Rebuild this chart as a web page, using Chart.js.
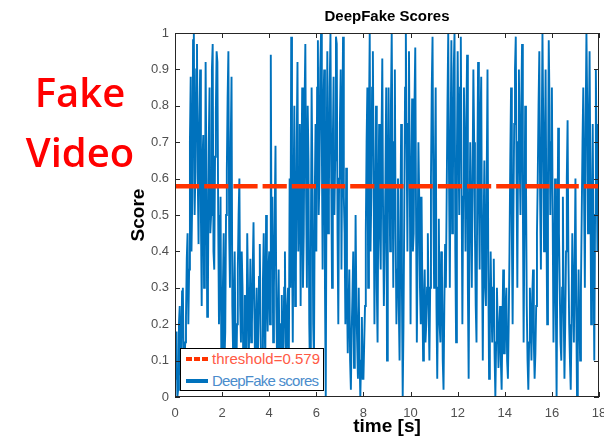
<!DOCTYPE html>
<html>
<head>
<meta charset="utf-8">
<script src="https://cdn.jsdelivr.net/npm/chart.js@4.4.1/dist/chart.umd.min.js"></script>
<style>
  html, body { margin: 0; padding: 0; background: #fff; }
  #wrap { position: relative; width: 604px; height: 438px; overflow: hidden; }
  #fake { position: absolute; left: 0; top: 0; width: 160px; text-align: center;
          font-family: "Open Sans", sans-serif; font-weight: 600; font-size: 40px;
          color: #ff0000; line-height: 60px; padding-top: 62px; }
  #legend { position: absolute; left: 180px; top: 348px; width: 142px; height: 41px;
            border: 1.5px solid #000; background: #fff;
            font-family: "Liberation Sans", Arial, sans-serif; font-size: 15px; }
  .row { position: absolute; left: 0; height: 20px; line-height: 20px; white-space: nowrap; }
  .row span { position: absolute; left: 31px; }
  .sample { position: absolute; left: 5px; top: 8px; width: 22px; height: 4px; }
</style>
</head>
<body>
<div id="wrap">
  <canvas id="grafico" width="604" height="438"></canvas>
  <div id="fake">Fake<br>Video</div>
  <div id="legend">
    <div class="row" style="top:0px">
      <div class="sample" style="background: repeating-linear-gradient(to right, #ff3300 0 6px, transparent 6px 8px);"></div>
      <span style="color:#ff5a45">threshold=0.579</span>
    </div>
    <div class="row" style="top:22px">
      <div class="sample" style="background:#0072bd"></div>
      <span style="color:#4a8ccc; letter-spacing:-0.75px">DeepFake scores</span>
    </div>
  </div>
</div>
<script>
// scores per frame (30 per second)
const fps = 30;
const scores = [
  0.05, 0.12, 0.18, 0.0, 0.02, 0.2, 0.25, 0.06, 0.12, 0.29, 0.3, 0.1, 0.08, 0.15, 0.22, 0.38, 0.45, 0.2, 0.35, 0.7, 0.88, 0.4, 0.55, 0.98, 1.0, 0.5, 0.62, 0.9, 0.97, 0.6,
  0.42, 0.75, 0.9, 0.5, 0.25, 0.65, 0.72, 0.3, 0.4, 0.92, 0.6, 0.22, 0.3, 0.7, 0.85, 0.45, 0.5, 0.9, 0.97, 0.4, 0.35, 0.66, 0.78, 0.95, 0.92, 0.5, 0.2, 0.35, 0.55, 0.1,
  0.05, 0.3, 0.45, 0.1, 0.18, 0.5, 0.62, 0.82, 0.95, 0.45, 0.3, 0.7, 0.88, 0.25, 0.12, 0.28, 0.4, 0.15, 0.05, 0.2, 0.35, 0.5, 0.6, 0.25, 0.15, 0.4, 0.3, 0.08, 0.1, 0.28,
  0.25, 0.1, 0.45, 0.3, 0.12, 0.22, 0.38, 0.15, 0.2, 0.35, 0.48, 0.25, 0.08, 0.18, 0.3, 0.05, 0.15, 0.33, 0.42, 0.2, 0.05, 0.12, 0.32, 0.45, 0.22, 0.1, 0.5, 0.3, 0.18, 0.35,
  0.4, 0.2, 0.94, 0.35, 0.55, 0.15, 0.3, 0.5, 0.69, 0.25, 0.1, 0.22, 0.35, 0.12, 0.05, 0.2, 0.28, 0.05, 0.12, 0.3, 0.4, 0.15, 0.08, 0.25, 0.3, 0.1, 0.6, 0.3, 0.99, 0.45,
  0.15, 0.55, 0.8, 0.25, 0.35, 0.7, 0.92, 0.4, 0.5, 0.75, 0.25, 0.6, 0.85, 0.3, 0.45, 0.8, 0.97, 0.55, 0.3, 0.8, 0.65, 0.2, 0.05, 0.4, 0.85, 0.6, 0.2, 0.1, 0.55, 0.75,
  0.4, 0.85, 0.98, 0.5, 0.6, 0.9, 1.0, 0.7, 0.35, 0.8, 0.9, 0.3, 0.0, 0.6, 0.95, 0.45, 0.55, 0.85, 1.0, 0.6, 0.3, 0.7, 0.88, 0.5, 0.65, 0.99, 0.97, 0.45, 0.2, 0.6,
  0.75, 0.9, 0.35, 0.7, 0.99, 0.55, 0.45, 0.2, 0.63, 0.3, 0.12, 0.25, 0.35, 0.1, 0.02, 0.18, 0.28, 0.4, 0.08, 0.15, 0.5, 0.25, 0.15, 0.05, 0.3, 0.12, 0.0, 0.1, 0.22, 0.05,
  0.05, 0.15, 0.25, 0.45, 0.7, 0.85, 0.3, 0.75, 1.0, 0.4, 0.55, 0.85, 0.95, 0.6, 0.2, 0.5, 0.8, 0.3, 0.15, 0.55, 0.75, 0.45, 0.35, 0.7, 0.93, 0.5, 0.25, 0.4, 0.6, 0.85,
  0.1, 0.5, 0.85, 0.6, 0.4, 0.8, 1.0, 0.65, 0.3, 0.7, 0.9, 0.45, 0.2, 0.35, 0.6, 0.25, 0.1, 0.45, 0.75, 0.3, 0.0, 0.2, 0.5, 0.85, 1.0, 0.7, 0.4, 0.75, 0.95, 0.6,
  0.2, 0.6, 0.82, 0.4, 0.45, 0.8, 0.96, 0.5, 0.15, 0.4, 0.7, 0.55, 0.3, 0.2, 0.55, 0.3, 0.1, 0.25, 0.35, 0.15, 0.2, 0.3, 0.45, 0.25, 0.1, 0.3, 0.6, 0.85, 0.99, 0.55,
  0.3, 0.6, 0.85, 0.25, 0.05, 0.3, 0.49, 0.2, 0.15, 0.4, 0.35, 0.1, 0.02, 0.25, 0.42, 0.3, 0.55, 0.8, 1.0, 0.6, 0.3, 0.7, 0.98, 0.45, 0.6, 0.9, 1.0, 0.4, 0.15, 0.65,
  0.95, 0.7, 0.5, 0.85, 0.99, 0.6, 0.2, 0.55, 0.85, 0.65, 0.4, 0.75, 0.94, 0.3, 0.05, 0.45, 0.7, 0.5, 0.3, 0.6, 0.9, 0.7, 0.45, 0.25, 0.15, 0.6, 0.92, 0.55, 0.35, 0.75,
  0.88, 0.4, 0.1, 0.45, 0.65, 0.3, 0.25, 0.6, 0.9, 0.35, 0.05, 0.2, 0.4, 0.25, 0.15, 0.3, 0.38, 0.12, 0.0, 0.15, 0.3, 0.2, 0.08, 0.18, 0.25, 0.1, 0.02, 0.2, 0.35, 0.12,
  0.12, 0.25, 0.3, 0.1, 0.05, 0.2, 0.4, 0.65, 0.85, 0.45, 0.2, 0.5, 0.75, 0.9, 0.99, 0.6, 0.3, 0.7, 0.9, 0.65, 0.5, 0.8, 0.97, 0.55, 0.15, 0.45, 0.8, 0.6, 0.25, 0.1,
  0.02, 0.15, 0.3, 0.2, 0.1, 0.28, 0.35, 0.15, 0.05, 0.12, 0.25, 0.45, 0.6, 0.8, 0.95, 0.55, 0.35, 0.7, 1.0, 0.75, 0.4, 0.65, 0.9, 0.5, 0.2, 0.55, 0.98, 0.8, 0.5, 0.7,
  0.85, 0.5, 0.15, 0.35, 0.6, 0.25, 0.0, 0.4, 0.74, 0.45, 0.3, 0.15, 0.1, 0.3, 0.55, 0.25, 0.05, 0.2, 0.4, 0.6, 0.76, 0.4, 0.2, 0.1, 0.02, 0.2, 0.45, 0.3, 0.15, 0.35,
  0.6, 0.25, 0.0, 0.15, 0.35, 0.2, 0.1, 0.3, 0.5, 0.7, 0.85, 0.55, 0.3, 0.75, 1.0, 0.8, 0.45, 0.7, 0.95, 0.6, 0.2, 0.45, 0.75, 0.4, 0.1, 0.5, 0.9, 0.65, 0.4, 0.75,
  0.6
];
const threshold = 0.579;
const timeRange = [0, 18];
const xTicks = [0, 2, 4, 6, 8, 10, 12, 14, 16, 18];
const yTicks = [0, 0.1, 0.2, 0.3, 0.4, 0.5, 0.6, 0.7, 0.8, 0.9, 1];

const puntos = scores.map((v, i) => ({ x: i / fps, y: v }));
const umbral = timeRange.map(t => ({ x: t, y: threshold }));

// box + inward ticks (matlab style)
const cajaEjes = {
    id: 'cajaEjes',
    afterDraw(chart) {
        const { ctx, chartArea: a, scales } = chart;
        ctx.save();
        ctx.strokeStyle = '#262626';
        ctx.lineWidth = 1;
        ctx.strokeRect(a.left + 0.5, a.top + 0.5, a.right - a.left - 1, a.bottom - a.top - 1);
        ctx.beginPath();
        xTicks.forEach(t => {
            const px = Math.round(scales.x.getPixelForValue(t)) + 0.5;
            ctx.moveTo(px, a.bottom); ctx.lineTo(px, a.bottom - 5);
            ctx.moveTo(px, a.top); ctx.lineTo(px, a.top + 5);
        });
        yTicks.forEach(t => {
            const py = Math.round(scales.y.getPixelForValue(t)) + 0.5;
            ctx.moveTo(a.left, py); ctx.lineTo(a.left + 5, py);
            ctx.moveTo(a.right, py); ctx.lineTo(a.right - 5, py);
        });
        ctx.stroke();
        ctx.restore();
    }
};

const tickFont = { family: '"Liberation Sans", Arial, sans-serif', size: 13 };
const titleFont = { family: '"Liberation Sans", Arial, sans-serif', size: 19, weight: 'bold' };

new Chart(document.getElementById('grafico'), {
    type: 'line',
    plugins: [cajaEjes],
    data: {
        datasets: [
            {
                label: 'threshold=' + threshold,
                data: umbral,
                borderColor: '#ff3300',
                borderWidth: 4.5,
                borderDash: [24.2, 5],
                pointRadius: 0,
                order: 1
            },
            {
                label: 'DeepFake scores',
                data: puntos,
                borderColor: '#0072bd',
                borderWidth: 1.9,
                pointRadius: 0,
                tension: 0,
                order: 2
            }
        ]
    },
    options: {
        responsive: false,
        animation: false,
        events: [],
        layout: { padding: { left: 123, right: 5, top: 0, bottom: 0 } },
        plugins: {
            legend: { display: false },
            tooltip: { enabled: false },
            title: {
                display: true,
                text: 'DeepFake Scores',
                fullSize: false,
                color: '#000',
                font: { family: '"Liberation Sans", Arial, sans-serif', size: 15, weight: 'bold' },
                padding: { top: 8, bottom: 7 }
            }
        },
        scales: {
            x: {
                type: 'linear',
                min: timeRange[0],
                max: timeRange[1],
                afterBuildTicks: s => { s.ticks = xTicks.map(v => ({ value: v })); },
                afterFit: s => { s.height = 41; s.paddingLeft = 0; s.paddingRight = 0; },
                grid: { display: false, drawTicks: false },
                border: { display: false },
                ticks: { color: '#505050', font: tickFont, padding: 9, maxRotation: 0, autoSkip: false },
                title: { display: true, text: 'time [s]', color: '#000', font: titleFont, padding: { top: 0, bottom: 0 } }
            },
            y: {
                min: 0,
                max: 1,
                afterBuildTicks: s => { s.ticks = yTicks.map(v => ({ value: v })); },
                afterFit: s => { s.width = 52; s.paddingTop = 0; s.paddingBottom = 0; },
                grid: { display: false, drawTicks: false },
                border: { display: false },
                ticks: { color: '#505050', font: tickFont, padding: 6,
                         callback: v => String(Math.round(v * 10) / 10) },
                title: { display: true, text: 'Score', color: '#000', font: titleFont, padding: { top: 4, bottom: 4 } }
            }
        }
    }
});
</script>
</body>
</html>
